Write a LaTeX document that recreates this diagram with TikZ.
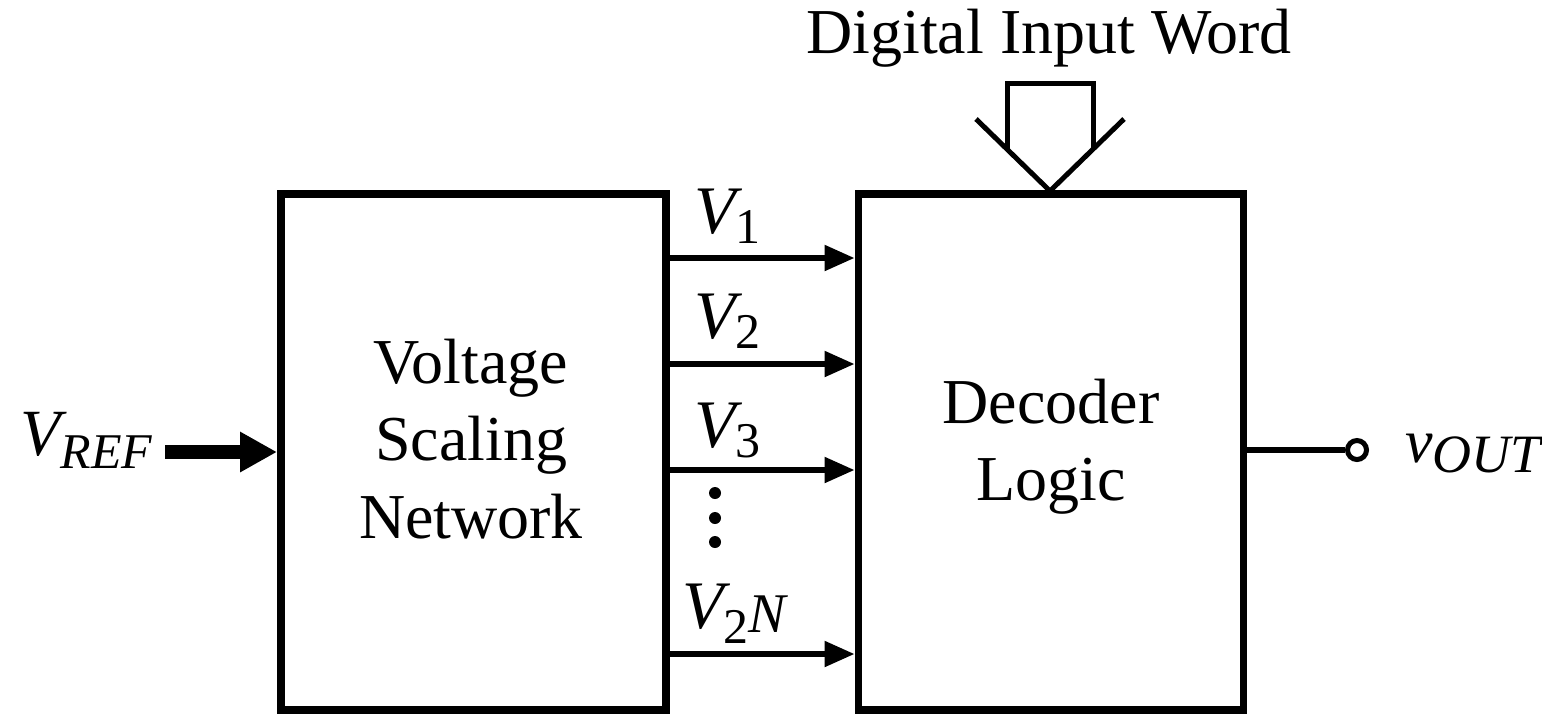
\documentclass[tikz,border=0pt]{standalone}
\usepackage{fontspec}
\setmainfont{Liberation Serif}
\usetikzlibrary{arrows.meta,calc}

% symbol helpers: italic main letter with a lowered subscript
\newcommand{\fs}[1]{\fontsize{#1}{#1}\selectfont}
\newcommand{\volt}[1]{{\fs{34}\itshape V}\raisebox{-5pt}{\fs{25}#1}}

\begin{document}
\begin{tikzpicture}[x=0.5pt,y=-0.5pt,
  block/.style={draw, line width=3.8pt, inner sep=0pt, outer sep=0pt,
                minimum width=192.5pt, minimum height=258pt},
  blocktext/.style={inner sep=0pt, anchor=base, font=\fs{32}},
  sig/.style={line width=2.7pt, shorten >=2pt,
              -{Triangle[length=15pt,width=12.5pt]}},
  refarrow/.style={line width=7pt, shorten >=2pt,
              -{Triangle[length=18.5pt,width=19pt]}},
  bus/.style={line width=2.5pt, line join=miter},
  lbl/.style={inner sep=0pt, anchor=base west},
  terminal/.style={circle, draw, line width=2.5pt, fill=white,
                   minimum size=9.5pt, inner sep=0pt}]

\useasboundingbox (0,0) rectangle (1542,719);

% the two blocks
\node[block] (lb) at (473.5,452) {};
\node[block] (rb) at (1051,452) {};

\node[blocktext] (lt1) at (471,383) {Voltage};
\node[blocktext] (lt2) at (471,460) {Scaling};
\node[blocktext] (lt3) at (471,538) {Network};

\node[blocktext] (rt1) at (1051,423) {Decoder};
\node[blocktext] (rt2) at (1051,500) {Logic};

% scaled reference voltages into the decoder
\coordinate (y1) at (0,258);
\coordinate (y2) at (0,364);
\coordinate (y3) at (0,470);
\coordinate (y4) at (0,654);
\foreach \k in {1,2,3,4}{
  \draw[sig] (lb.east |- y\k) -- (rb.west |- y\k);
}
\node[lbl] (v1) at (694,233) {\volt{1}};
\node[lbl] (v2) at (694,338) {\volt{2}};
\node[lbl] (v3) at (694,447) {\volt{3}};
\node[lbl] (v4) at (682,628) {{\fs{34}\itshape V}\raisebox{-7.5pt}{\fs{25}2}\raisebox{-2pt}{\fs{28}\itshape N}};

% vertical ellipsis
\foreach \yy in {493,518,542}{
  \fill (715,\yy) circle[radius=3pt];
}

% reference input
\node[lbl] (vref) at (20,455) {{\fs{33}\itshape V}\raisebox{-6.5pt}{\fs{25}\itshape REF}};
\coordinate (refstart) at (165,452);
\draw[refarrow] (refstart) -- (lb.west);

% output terminal
\node[terminal] (out) at (1357,450) {};
\draw[line width=2.7pt] (out -| rb.east) -- (out.west);
\node[lbl] (vout) at (1405,462) {{\fs{31}\itshape v}\raisebox{-5pt}{\fs{27}\itshape OUT}};

% digital input word (bus arrow)
\coordinate (tip) at ($(rb.north)+(-1,-3)$);
\draw[bus] ($(tip)+(-74,-72)$) -- (tip) -- ($(tip)+(74,-72)$);
\draw[bus] ($(tip)+(-43,-42)$) -- ($(tip)+(-43,-108)$)
        -- ($(tip)+(43,-108)$) -- ($(tip)+(43,-42)$);
\node[blocktext] (diw) at (1049,53) {Digital Input Word};

\end{tikzpicture}
\end{document}
